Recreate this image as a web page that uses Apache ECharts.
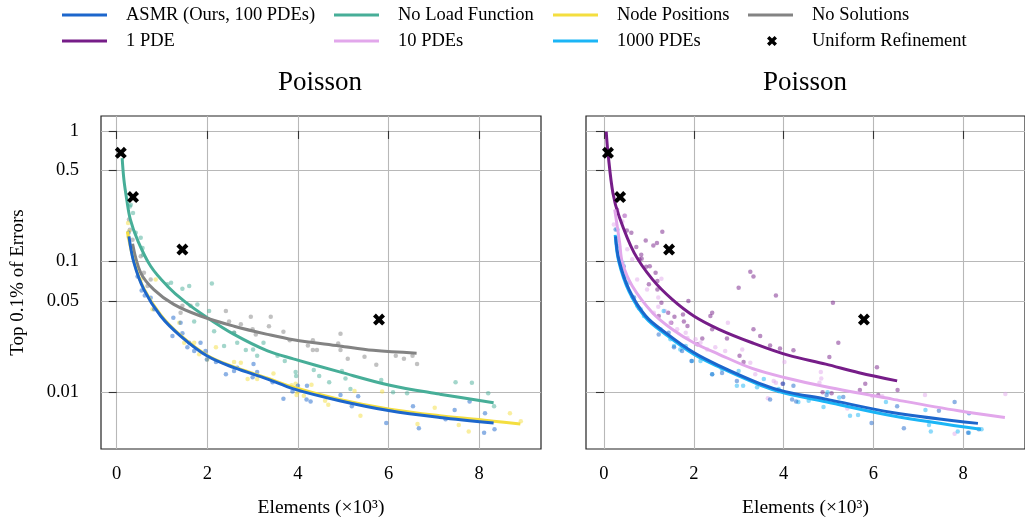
<!DOCTYPE html>
<html>
<head>
<meta charset="utf-8">
<script src="https://cdn.jsdelivr.net/npm/echarts@6/dist/echarts.min.js"></script>
<style>
  html, body { margin: 0; padding: 0; background: #fff; }
  #chart { width: 1025px; height: 523px; }
</style>
</head>
<body>
<div id="chart"></div>
<script>
// ---- axis ticks ----
const xTicks = [0, 2, 4, 6, 8];
const yTicks = [1, 0.5, 0.1, 0.05, 0.01];
const yTickLabels = ['1', '0.5', '0.1', '0.05', '0.01'];

// ---- uniform refinement reference runs (elements in thousands, error) ----
const refineX = [0.09, 0.36, 1.45, 5.79];
const refineY = [0.68, 0.312, 0.1235, 0.036];

// ---- left panel: fitted trends [elements (x10^3), top 0.1% error] ----
const asmrFitL = [[0.27,0.156],[0.38,0.098],[0.6,0.061],[0.97,0.0383],[1.41,0.0269],[2.0,0.0189],[2.59,0.0154],[3.33,0.0126],[3.9,0.0106],[4.92,0.0086],[6.03,0.0072],[7.13,0.0064],[8.32,0.0058]];
const noLoadFit = [[0.12,0.62],[0.16,0.42],[0.22,0.30],[0.30,0.21],[0.456,0.147],[0.75,0.092],[1.12,0.0648],[1.49,0.0498],[2.0,0.0372],[2.59,0.0277],[3.33,0.0207],[3.9,0.018],[4.92,0.0143],[6.03,0.0113],[7.13,0.00966],[8.32,0.0083]];
const nodePosFit = [[0.235,0.17],[0.38,0.1],[0.6,0.062],[0.97,0.039],[1.41,0.0272],[2.0,0.0191],[2.59,0.0156],[3.33,0.0128],[3.9,0.0109],[4.92,0.0088],[6.03,0.0074],[7.13,0.0066],[8.32,0.0060],[8.91,0.0057]];
const noSolFit = [[0.35,0.137],[0.53,0.082],[0.82,0.061],[1.26,0.047],[1.85,0.0383],[2.59,0.032],[3.33,0.0277],[3.9,0.0252],[4.92,0.0226],[5.66,0.0209],[6.62,0.0199]];

// ---- left panel: individual runs ----
const asmrDotsL = [[0.26,0.166],[0.46,0.077],[0.55,0.06],[0.62,0.055],[0.75,0.0528],[0.83,0.0432],[1.25,0.0372],[1.41,0.034],[1.23,0.0269],[1.45,0.0282],[1.6,0.0239],[1.56,0.0221],[1.71,0.0207],[1.85,0.0239],[1.96,0.0207],[1.99,0.0178],[2.19,0.017],[2.41,0.0137],[2.59,0.0145],[2.66,0.0154],[3.02,0.0164],[3.0,0.013],[3.1,0.0143],[3.44,0.0119],[3.68,0.0089],[3.88,0.0101],[4.0,0.0112],[4.2,0.0112],[4.19,0.0088],[4.28,0.0085],[4.94,0.0095],[5.19,0.0078],[5.33,0.0093],[5.95,0.0058],[6.54,0.0078],[6.67,0.0053],[7.26,0.0062],[7.46,0.0073],[7.79,0.0085],[8.13,0.0069],[8.11,0.0049],[8.34,0.0052]];
const noLoadDots = [[0.29,0.264],[0.36,0.235],[0.31,0.272],[0.42,0.166],[0.53,0.152],[0.57,0.127],[0.58,0.113],[1.12,0.067],[1.2,0.0688],[1.45,0.0619],[1.6,0.065],[2.1,0.0679],[1.78,0.047],[2.04,0.0418],[1.71,0.0348],[2.15,0.0293],[2.59,0.0285],[2.66,0.0239],[2.37,0.0226],[2.85,0.021],[3.01,0.0212],[3.1,0.019],[3.24,0.0239],[3.55,0.019],[3.71,0.0173],[3.95,0.0143],[3.96,0.0133],[4.35,0.0148],[4.47,0.0133],[4.69,0.0119],[4.97,0.0145],[5.05,0.0127],[5.16,0.0106],[5.84,0.0124],[6.1,0.01],[6.41,0.0098],[7.48,0.0119],[7.84,0.0118],[8.2,0.0098],[8.33,0.0078]];
const nodePosDots = [[0.25,0.197],[0.27,0.17],[0.26,0.155],[0.53,0.073],[0.86,0.073],[0.79,0.0432],[1.38,0.034],[1.49,0.0239],[1.71,0.0239],[1.82,0.0195],[2.0,0.0178],[2.19,0.0221],[2.59,0.017],[2.74,0.0168],[2.89,0.0126],[3.1,0.0126],[3.46,0.0139],[3.95,0.0116],[3.99,0.01],[3.86,0.0113],[3.97,0.0095],[4.3,0.0114],[4.13,0.0094],[4.6,0.0086],[4.67,0.008],[5.25,0.0102],[5.38,0.0066],[5.86,0.0101],[6.64,0.0057],[7.02,0.0076],[7.55,0.0056],[7.77,0.005],[8.68,0.0069],[8.92,0.006]];
const noSolDots = [[0.27,0.21],[0.29,0.175],[0.35,0.147],[0.53,0.11],[0.6,0.082],[0.68,0.065],[0.75,0.073],[1.45,0.0458],[1.41,0.0406],[1.63,0.0458],[1.85,0.0394],[2.41,0.0418],[2.48,0.0348],[2.74,0.0331],[2.59,0.0285],[2.96,0.0378],[3.0,0.0303],[3.07,0.0277],[3.4,0.0378],[3.36,0.032],[3.68,0.029],[3.82,0.025],[4.22,0.0228],[4.33,0.025],[4.33,0.021],[4.42,0.021],[4.94,0.028],[4.89,0.0236],[4.94,0.021],[5.1,0.018],[5.47,0.0187],[5.73,0.0162],[6.16,0.019],[6.34,0.018],[6.53,0.019],[6.63,0.0164]];

// ---- right panel: fitted trends ----
const asmrFitR = [[0.26,0.156],[0.33,0.104],[0.56,0.061],[0.93,0.0383],[1.37,0.0286],[2.0,0.0201],[2.56,0.016],[3.46,0.0117],[4.04,0.0101],[4.94,0.00885],[6.42,0.007],[8.33,0.00577]];
const onePdeFit = [[0.05,0.99],[0.09,0.676],[0.2,0.334],[0.34,0.22],[0.67,0.117],[1.08,0.073],[1.52,0.0513],[2.0,0.0383],[2.56,0.0303],[3.3,0.0239],[4.1,0.0192],[4.94,0.0164],[5.68,0.0141],[6.53,0.0122]];
const tenPdeFit = [[0.24,0.25],[0.35,0.139],[0.41,0.098],[0.63,0.065],[1.08,0.0406],[1.52,0.0303],[2.0,0.0239],[2.56,0.0195],[3.3,0.0152],[4.04,0.0129],[4.94,0.011],[6.42,0.00885],[7.9,0.0072],[8.93,0.0064]];
const thousandFit = [[0.25,0.16],[0.33,0.1],[0.56,0.059],[0.93,0.0372],[1.37,0.0278],[2.0,0.0195],[2.56,0.0156],[3.46,0.0114],[4.04,0.0098],[4.94,0.00844],[6.42,0.0066],[8.39,0.0052]];

// ---- right panel: individual runs ----
const asmrDotsR = [[0.26,0.176],[0.44,0.092],[0.67,0.053],[0.78,0.044],[1.22,0.0277],[1.44,0.0285],[1.56,0.0221],[1.74,0.0207],[1.95,0.0173],[2.41,0.0137],[2.63,0.014],[2.96,0.0122],[3.7,0.0088],[3.89,0.0102],[3.99,0.0116],[4.19,0.0088],[4.22,0.0112],[4.28,0.0085],[4.96,0.0095],[5.33,0.0092],[5.96,0.0058],[6.53,0.0078],[6.68,0.0053],[7.46,0.0072],[7.81,0.0084],[8.13,0.0069],[8.11,0.0049],[8.35,0.0052]];
const onePdeDots = [[0.29,0.249],[0.46,0.224],[0.51,0.173],[0.61,0.166],[0.72,0.129],[0.93,0.145],[1.1,0.133],[1.18,0.139],[1.3,0.169],[0.83,0.113],[0.79,0.104],[0.94,0.0912],[1.02,0.092],[1.15,0.082],[0.84,0.105],[1.19,0.0709],[1.0,0.067],[1.19,0.061],[1.28,0.0484],[1.22,0.0383],[1.43,0.0406],[1.57,0.0378],[1.5,0.034],[1.78,0.0348],[1.76,0.0394],[1.88,0.05],[1.86,0.0321],[2.08,0.0233],[2.19,0.0258],[2.37,0.0383],[2.41,0.0406],[2.41,0.0303],[2.74,0.0258],[3.0,0.063],[3.02,0.019],[3.11,0.017],[3.26,0.0835],[3.33,0.077],[3.33,0.0303],[3.48,0.0269],[3.7,0.0228],[3.83,0.055],[3.92,0.0216],[4.22,0.0209],[5.1,0.0484],[5.22,0.0239],[5.02,0.0186],[5.82,0.0116],[5.7,0.0104],[6.08,0.0155],[6.54,0.0104],[6.11,0.0095],[5.07,0.0098],[3.98,0.0116],[4.87,0.01]];
const tenPdeDots = [[0.3,0.242],[0.47,0.224],[0.41,0.203],[0.22,0.192],[0.52,0.124],[0.63,0.104],[1.28,0.074],[0.74,0.073],[0.96,0.061],[1.21,0.053],[1.21,0.045],[1.11,0.0406],[1.36,0.0418],[1.48,0.034],[1.63,0.0303],[1.82,0.0285],[1.86,0.026],[2.04,0.0254],[2.15,0.0239],[2.3,0.0212],[2.48,0.0221],[2.7,0.0207],[2.76,0.034],[3.08,0.0212],[3.26,0.0168],[3.37,0.0137],[3.65,0.009],[3.78,0.0122],[4.02,0.017],[4.83,0.0143],[4.84,0.0127],[4.8,0.0118],[3.83,0.0118],[5.98,0.0093],[6.2,0.0093],[5.42,0.0075],[7.15,0.0095],[7.81,0.0048],[8.94,0.0097]];
const thousandDots = [[0.3,0.176],[0.33,0.131],[0.41,0.098],[0.48,0.077],[0.56,0.069],[0.63,0.054],[0.74,0.0458],[0.82,0.0432],[0.89,0.0383],[1.33,0.0418],[1.26,0.0303],[1.48,0.0254],[1.56,0.0226],[1.7,0.0212],[1.82,0.0226],[1.96,0.0173],[2.15,0.0173],[2.41,0.0137],[2.63,0.015],[3.0,0.0145],[2.96,0.0112],[3.1,0.0112],[3.41,0.0109],[3.56,0.0126],[3.89,0.0106],[3.9,0.0102],[4.33,0.0084],[4.56,0.0086],[4.89,0.0077],[4.98,0.01],[5.24,0.0091],[5.48,0.0066],[5.66,0.0067],[6.28,0.0084],[7.16,0.0073],[7.24,0.0056],[7.28,0.005],[7.88,0.005],[8.13,0.0049],[8.41,0.0052]];

// ---- names and colours ----
const N_ASMR = 'ASMR (Ours, 100 PDEs)';
const N_NOLOAD = 'No Load Function';
const N_NODE = 'Node Positions';
const N_NOSOL = 'No Solutions';
const N_ONE = '1 PDE';
const N_TEN = '10 PDEs';
const N_THOUSAND = '1000 PDEs';
const N_REF = 'Uniform Refinement';

const COL = {
  asmr: '#1c66cc', noLoad: '#47ae98', node: '#f4de3f', noSol: '#838383',
  one: '#761d88', ten: '#e2a7eb', thousand: '#1bb5f6'
};

const FONT = '"Liberation Serif", "DejaVu Serif", serif';
const CROSS = 'path://M0,2.4 L2.4,0 L5,2.6 L7.6,0 L10,2.4 L7.4,5 L10,7.6 L7.6,10 L5,7.4 L2.4,10 L0,7.6 L2.6,5 Z';

const lg = v => Math.log10(v);
const toLog = pts => pts.map(p => [p[0], lg(p[1])]);

function trend(name, pts, color, idx, z) {
  return {
    type: 'line', name, xAxisIndex: idx, yAxisIndex: idx,
    data: toLog(pts), smooth: 0.35, showSymbol: false, silent: true,
    lineStyle: { color, width: 3 }, itemStyle: { color }, z
  };
}
function runs(name, pts, color, idx) {
  return {
    type: 'scatter', name, xAxisIndex: idx, yAxisIndex: idx,
    data: toLog(pts), symbolSize: 4.5, silent: true,
    itemStyle: { color, opacity: 0.5 }, z: 2
  };
}
function refine(idx) {
  return {
    type: 'scatter', name: N_REF, xAxisIndex: idx, yAxisIndex: idx,
    data: refineX.map((x, i) => [x, lg(refineY[i])]),
    symbol: CROSS, symbolSize: 12, silent: true,
    itemStyle: { color: '#000', opacity: 1 }, z: 10
  };
}

function xAxisFor(idx, min, max) {
  return {
    type: 'value', gridIndex: idx, min, max,
    name: 'Elements (×10³)', nameLocation: 'middle', nameGap: 49,
    nameTextStyle: { fontFamily: FONT, fontSize: 19.5, color: '#000' },
    axisLine: { show: false },
    axisTick: { show: true, length: 8, customValues: xTicks, lineStyle: { color: '#333', width: 1.1 } },
    axisLabel: { customValues: xTicks, margin: 16, fontFamily: FONT, fontSize: 18.5, color: '#000' },
    splitLine: { show: true, lineStyle: { color: '#b8b8b8', width: 1.1 } }
  };
}
const yMin = -2.435, yMax = 0.1145;
function yAxisFor(idx, withLabels) {
  const ax = {
    type: 'value', gridIndex: idx, min: yMin, max: yMax,
    axisLine: { show: false },
    axisTick: { show: true, length: 8, customValues: yTicks.map(lg), lineStyle: { color: '#333', width: 1.1 } },
    axisLabel: {
      show: withLabels, customValues: yTicks.map(lg), margin: 22,
      fontFamily: FONT, fontSize: 18.5, color: '#000',
      formatter: v => {
        let best = 0;
        yTicks.forEach((t, i) => { if (Math.abs(lg(t) - v) < Math.abs(lg(yTicks[best]) - v)) best = i; });
        return yTickLabels[best];
      }
    },
    splitLine: { show: true, lineStyle: { color: '#b8b8b8', width: 1.1 } }
  };
  if (withLabels) {
    ax.name = 'Top 0.1% of Errors';
    ax.nameLocation = 'middle';
    ax.nameGap = 73;
    ax.nameTextStyle = { fontFamily: FONT, fontSize: 19, color: '#000' };
  }
  return ax;
}

const legendText = { fontFamily: FONT, fontSize: 18.5, color: '#000', lineHeight: 20, padding: [0, 0, 0, 14] };
function lineLegend(left, top, names) {
  return {
    orient: 'vertical', left, top, itemWidth: 45, itemHeight: 3, itemGap: 6,
    icon: 'rect', data: names, selectedMode: false, textStyle: legendText, padding: 0
  };
}

const chart = echarts.init(document.getElementById('chart'), null, { renderer: 'canvas' });
chart.setOption({
  animation: false,
  backgroundColor: '#fff',
  legend: [
    lineLegend(62, 5, [N_ASMR, N_ONE]),
    lineLegend(334, 5, [N_NOLOAD, N_TEN]),
    lineLegend(553, 5, [N_NODE, N_THOUSAND]),
    lineLegend(748, 5, [N_NOSOL]),
    {
      orient: 'vertical', left: 767, top: 31, itemWidth: 10, itemHeight: 10,
      icon: CROSS, data: [N_REF], selectedMode: false,
      textStyle: Object.assign({}, legendText, { padding: [0, 0, 0, 30] }), padding: 0
    }
  ],
  graphic: [
    { type: 'text', left: 321 - 43, top: 69, style: { text: 'Poisson', font: '27px ' + FONT, fill: '#000' } },
    { type: 'text', left: 806 - 43, top: 69, style: { text: 'Poisson', font: '27px ' + FONT, fill: '#000' } }
  ],
  grid: [
    { left: 101, top: 116, width: 440, height: 334, show: true, borderColor: '#222', borderWidth: 1.2, backgroundColor: 'transparent' },
    { left: 586, top: 116, width: 440, height: 334, show: true, borderColor: '#222', borderWidth: 1.2, backgroundColor: 'transparent' }
  ],
  xAxis: [xAxisFor(0, -0.347, -0.347 + 440 / 45.3), xAxisFor(1, -0.4, -0.4 + 440 / 45)],
  yAxis: [yAxisFor(0, true), yAxisFor(1, false)],
  series: [
    // left panel
    runs(N_NOSOL + ' runs', noSolDots, COL.noSol, 0),
    runs(N_NOLOAD + ' runs', noLoadDots, COL.noLoad, 0),
    runs(N_NODE + ' runs', nodePosDots, COL.node, 0),
    runs(N_ASMR + ' runs', asmrDotsL, COL.asmr, 0),
    trend(N_NOLOAD, noLoadFit, COL.noLoad, 0, 5),
    trend(N_NOSOL, noSolFit, COL.noSol, 0, 5),
    trend(N_NODE, nodePosFit, COL.node, 0, 6),
    trend(N_ASMR, asmrFitL, COL.asmr, 0, 7),
    refine(0),
    // right panel
    runs(N_ONE + ' runs', onePdeDots, COL.one, 1),
    runs(N_TEN + ' runs', tenPdeDots, COL.ten, 1),
    runs(N_THOUSAND + ' runs', thousandDots, COL.thousand, 1),
    runs(N_ASMR + ' runs (right)', asmrDotsR, COL.asmr, 1),
    trend(N_ONE, onePdeFit, COL.one, 1, 5),
    trend(N_TEN, tenPdeFit, COL.ten, 1, 5),
    trend(N_THOUSAND, thousandFit, COL.thousand, 1, 6),
    trend(N_ASMR, asmrFitR, COL.asmr, 1, 7),
    refine(1)
  ]
});
</script>
</body>
</html>
